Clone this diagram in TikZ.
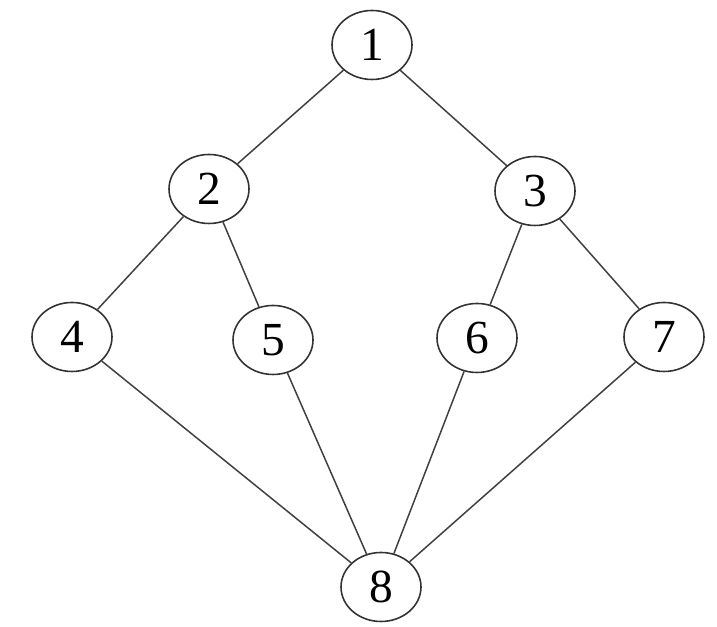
\documentclass[tikz,border=0pt]{standalone}
\usepackage{fontspec}
\setmainfont{Liberation Serif}
\usepackage{tikz}
\usetikzlibrary{shapes.geometric}

\begin{document}
\begin{tikzpicture}[
    vert/.style={ellipse, draw=black!80, line width=0.9pt, fill=white, minimum width=1.6cm, minimum height=1.38cm, inner sep=0pt, font=\fontsize{27}{30}\selectfont},
    edge/.style={draw=black!75, line width=0.85pt}
]
\useasboundingbox (0,0) rectangle (14.34,12.54);

% vertices of the lattice
\node[vert] (n1) at (7.44, 11.64) {1};
\node[vert] (n2) at (4.18, 8.76) {2};
\node[vert] (n3) at (10.70, 8.72) {3};
\node[vert] (n4) at (1.44, 5.80) {4};
\node[vert] (n5) at (5.46, 5.74) {5};
\node[vert] (n6) at (9.54, 5.78) {6};
\node[vert] (n7) at (13.28, 5.80) {7};
\node[vert] (n8) at (7.62, 0.80) {8};

% edges
\foreach \a/\b in {n1/n2, n1/n3, n2/n4, n2/n5, n3/n6, n3/n7, n4/n8, n5/n8, n6/n8, n7/n8} {
    \draw[edge] (\a) -- (\b);
}

\end{tikzpicture}
\end{document}
